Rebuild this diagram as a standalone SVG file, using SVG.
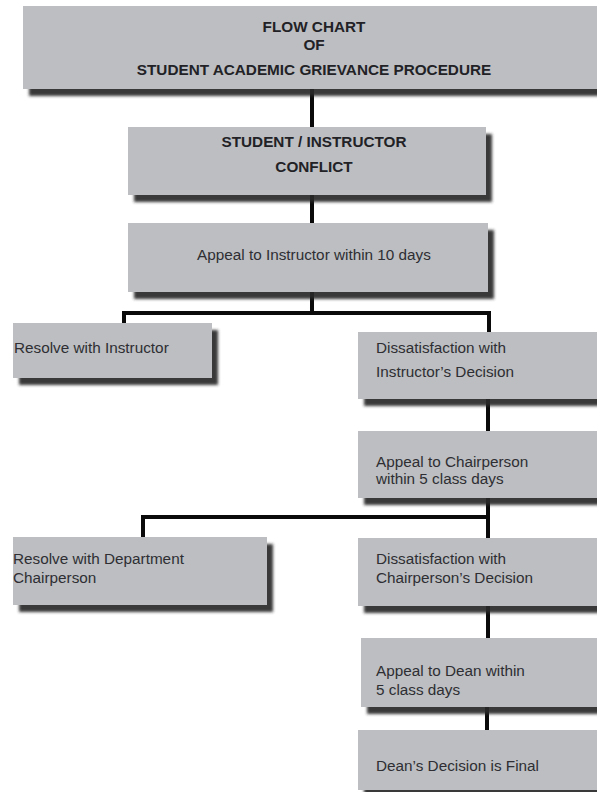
<svg xmlns="http://www.w3.org/2000/svg" width="597" height="792" viewBox="0 0 597 792">
<defs>
<filter id="sh" x="-10%" y="-10%" width="130%" height="140%">
<feDropShadow dx="6" dy="7" stdDeviation="1.6" flood-color="#262626" flood-opacity="0.92"/>
</filter>
</defs>
<style>
.box{fill:#bcbec1;filter:url(#sh);}
.t{font-family:"Liberation Sans",Arial,sans-serif;font-size:15.3px;fill:#2e2e33;}
.b{font-weight:bold;fill:#222226;}
.c{text-anchor:middle;}
.ln{stroke:#0a0a0a;stroke-width:4;fill:none;}
</style>
<rect width="597" height="792" fill="#ffffff"/>
<g id="connectors">
<line class="ln" x1="312" y1="89" x2="312" y2="128"/>
<line class="ln" x1="312" y1="195" x2="312" y2="224"/>
<polyline class="ln" points="124,324 124,313 312,313 312,292"/>
<polyline class="ln" points="312,313 489,313 489,333"/>
<line class="ln" x1="488" y1="399" x2="488" y2="432"/>
<line class="ln" x1="488" y1="498" x2="488" y2="539"/>
<polyline class="ln" points="143,538 143,517 488,517"/>
<line class="ln" x1="488" y1="606" x2="488" y2="639"/>
<line class="ln" x1="487" y1="707" x2="487" y2="731"/>
</g>
<g id="title">
<rect class="box" x="23" y="6" width="600" height="83"/>
<text class="t b c" x="314" y="32">FLOW CHART</text>
<text class="t b c" x="314" y="50">OF</text>
<text class="t b c" x="314" y="75">STUDENT ACADEMIC GRIEVANCE PROCEDURE</text>
</g>
<g id="conflict">
<rect class="box" x="128" y="127" width="358" height="68"/>
<text class="t b c" x="314" y="147">STUDENT / INSTRUCTOR</text>
<text class="t b c" x="314" y="172">CONFLICT</text>
</g>
<g id="appeal-instructor">
<rect class="box" x="128" y="223" width="360" height="69"/>
<text class="t c" x="314" y="260">Appeal to Instructor within 10 days</text>
</g>
<g id="resolve-instructor">
<rect class="box" x="13" y="323" width="199" height="55"/>
<text class="t" x="14" y="353">Resolve with Instructor</text>
</g>
<g id="dissatisfaction-instructor">
<rect class="box" x="358" y="332" width="260" height="67"/>
<text class="t" x="376" y="353">Dissatisfaction with</text>
<text class="t" x="376" y="377">Instructor’s Decision</text>
</g>
<g id="appeal-chairperson">
<rect class="box" x="358" y="431" width="260" height="67"/>
<text class="t" x="376" y="467">Appeal to Chairperson</text>
<text class="t" x="376" y="484">within 5 class days</text>
</g>
<g id="resolve-department">
<rect class="box" x="13" y="537" width="254" height="68"/>
<text class="t" x="13" y="564">Resolve with Department</text>
<text class="t" x="13" y="583">Chairperson</text>
</g>
<g id="dissatisfaction-chairperson">
<rect class="box" x="358" y="538" width="260" height="68"/>
<text class="t" x="376" y="564">Dissatisfaction with</text>
<text class="t" x="376" y="583">Chairperson’s Decision</text>
</g>
<g id="appeal-dean">
<rect class="box" x="361" y="638" width="260" height="69"/>
<text class="t" x="376" y="676">Appeal to Dean within</text>
<text class="t" x="376" y="695">5 class days</text>
</g>
<g id="dean-final">
<rect class="box" x="358" y="730" width="260" height="60"/>
<text class="t" x="376" y="771">Dean’s Decision is Final</text>
</g>
</svg>
